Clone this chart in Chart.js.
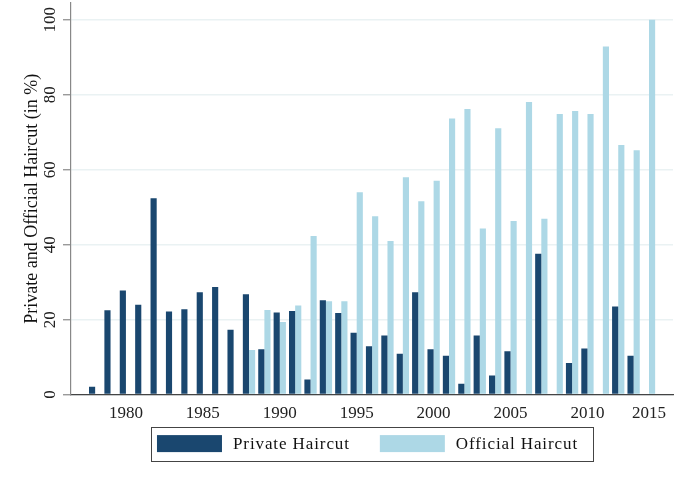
<!DOCTYPE html>
<html>
<head>
<meta charset="utf-8">
<script src="https://cdn.jsdelivr.net/npm/chart.js@4.4.1/dist/chart.umd.min.js"></script>
<style>
  html, body { margin: 0; padding: 0; background: #fff; }
  #wrap { width: 693px; height: 483px; position: relative; }
</style>
</head>
<body>
<div id="wrap"><canvas id="haircutChart"></canvas></div>
<script>
// one bar group per year, there is no 2014 group
const years = [1978, 1979, 1980, 1981, 1982, 1983, 1984, 1985, 1986, 1987,
               1988, 1989, 1990, 1991, 1992, 1993, 1994, 1995, 1996, 1997,
               1998, 1999, 2000, 2001, 2002, 2003, 2004, 2005, 2006, 2007,
               2008, 2009, 2010, 2011, 2012, 2013, 2015];

const privateHaircut = [2.1, 22.5, 27.8, 24.0, 52.4, 22.2, 22.8, 27.3, 28.7, 17.3,
                        26.8, 12.1, 21.9, 22.3, 4.0, 25.2, 21.8, 16.5, 12.9, 15.8,
                        10.9, 27.3, 12.1, 10.4, 2.9, 15.8, 5.1, 11.6, null, 37.6,
                        null, 8.4, 12.3, null, 23.5, 10.4, null];

const officialHaircut = [null, null, null, null, null, null, null, null, null, null,
                         11.9, 22.6, 19.4, 23.8, 42.3, 24.9, 24.9, 54.0, 47.6, 41.0,
                         58.0, 51.6, 57.1, 73.7, 76.2, 44.3, 71.1, 46.3, 78.1, 46.9,
                         74.9, 75.7, 74.9, 92.9, 66.6, 65.2, 100];

const yTicks = [0, 20, 40, 60, 80, 100];
const xTickYears = [1980, 1985, 1990, 1995, 2000, 2005, 2010, 2015];

const serif = "'Liberation Serif', 'DejaVu Serif', serif";
const navy = '#1a476f';
const lightBlue = '#add8e6';

function toPoints(arr) {
    return arr.map((v, i) => ({x: i, y: v}));
}

// legend drawn under the plot, framed, centred on the plot area
const boxedLegend = {
    id: 'boxedLegend',
    afterDraw(chart) {
        const ctx = chart.ctx;
        const area = chart.chartArea;
        const sets = chart.data.datasets;
        const swatchW = 65, swatchH = 17, textGap = 11, itemGap = 30;
        const padL = 6, padR = 15;

        ctx.save();
        ctx.font = '17px ' + serif;
        ctx.letterSpacing = '0.9px';
        const widths = sets.map(ds => ctx.measureText(ds.label).width);
        let itemsW = 0;
        widths.forEach((w, i) => itemsW += swatchW + textGap + w + (i ? itemGap : 0));

        const boxW = itemsW + padL + padR;
        const boxX = (area.left + area.right) / 2 - boxW / 2;
        const boxY = area.bottom + 32;
        const boxH = 34;
        const midY = boxY + boxH / 2;

        ctx.strokeStyle = '#444';
        ctx.lineWidth = 1;
        ctx.strokeRect(Math.round(boxX) + 0.5, Math.round(boxY) + 0.5, Math.round(boxW), boxH);

        let x = boxX + padL;
        sets.forEach((ds, i) => {
            ctx.fillStyle = ds.backgroundColor;
            ctx.fillRect(x, midY - swatchH / 2, swatchW, swatchH);
            x += swatchW + textGap;
            ctx.fillStyle = '#111';
            ctx.textBaseline = 'middle';
            ctx.textAlign = 'left';
            ctx.fillText(ds.label, x, midY + 1);
            x += widths[i] + itemGap;
        });
        ctx.restore();
    }
};

const ctx = document.getElementById('haircutChart').getContext('2d');

new Chart(ctx, {
    type: 'bar',
    data: {
        datasets: [{
            label: 'Private Haircut',
            data: toPoints(privateHaircut),
            backgroundColor: navy,
            borderWidth: 0,
            categoryPercentage: 0.8,
            barPercentage: 1.0
        }, {
            label: 'Official Haircut',
            data: toPoints(officialHaircut),
            backgroundColor: lightBlue,
            borderWidth: 0,
            categoryPercentage: 0.8,
            barPercentage: 1.0
        }]
    },
    options: {
        responsive: true,
        maintainAspectRatio: false,
        animation: false,
        layout: {
            padding: {top: 3, right: 20, bottom: 50, left: 8}
        },
        plugins: {
            legend: {display: false},
            tooltip: {enabled: false}
        },
        scales: {
            x: {
                type: 'linear',
                offset: false,
                min: -1.57,
                max: 37.56,
                grid: {display: false, drawTicks: false},
                border: {display: true, color: '#444', width: 1.2},
                afterBuildTicks: axis => {
                    axis.ticks = xTickYears.map(y => ({value: years.indexOf(y)}));
                },
                ticks: {
                    autoSkip: false,
                    maxRotation: 0,
                    padding: 9,
                    color: '#222',
                    font: {family: serif, size: 17},
                    callback: v => years[v]
                }
            },
            y: {
                min: 0,
                max: 104.5,
                afterBuildTicks: axis => {
                    axis.ticks = yTicks.map(v => ({value: v}));
                },
                // the top label sits below the axis end, no extra room needed
                afterFit: axis => {
                    axis.paddingTop = 0;
                    axis.paddingBottom = 0;
                },
                grid: {
                    color: '#eaf2f3',
                    lineWidth: 1.5,
                    tickColor: '#888',
                    tickLength: 8,
                    tickWidth: 1.2
                },
                border: {display: true, color: '#888', width: 1.2},
                ticks: {
                    minRotation: 90,
                    maxRotation: 90,
                    crossAlign: 'center',
                    padding: 0,
                    color: '#222',
                    font: {family: serif, size: 17}
                },
                title: {
                    display: true,
                    text: 'Private and Official Haircut (in %)',
                    color: '#111',
                    padding: {top: 13, bottom: 0},
                    font: {family: serif, size: 18}
                }
            }
        }
    },
    plugins: [boxedLegend]
});
</script>
</body>
</html>
